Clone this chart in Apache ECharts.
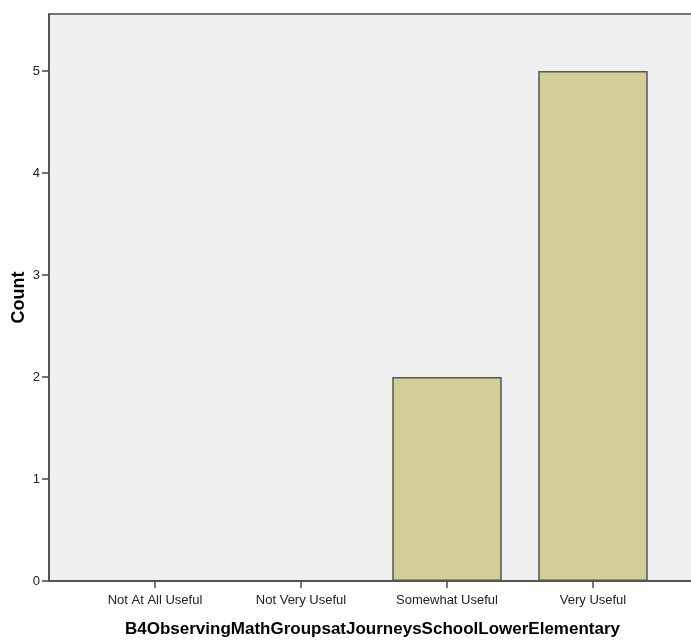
<!DOCTYPE html>
<html>
<head>
<meta charset="utf-8">
<script src="https://cdn.jsdelivr.net/npm/echarts@6/dist/echarts.min.js"></script>
<style>html,body{margin:0;padding:0;background:#fff;}#c{width:691px;height:641px;}</style>
</head>
<body>
<div id="c"></div>
<script>
var categories = ['Not At All Useful', 'Not Very Useful', 'Somewhat Useful', 'Very Useful'];
var counts = [0, 0, 2, 5];
var yTicks = [0, 1, 2, 3, 4, 5];
var xTitle = 'B4ObservingMathGroupsatJourneysSchoolLowerElementary';
var yTitle = 'Count';

var chart = echarts.init(document.getElementById('c'), null, {renderer: 'canvas'});
var yMax = 5.56;
var font = 'Liberation Sans, Arial, sans-serif';
var barData = counts.map(function (v) {
  return {value: v, itemStyle: {borderWidth: v === 0 ? 0 : 1.5}};
});
chart.setOption({
  animation: false,
  backgroundColor: '#ffffff',
  textStyle: {fontFamily: font},
  grid: [
    {left: 49, right: -5, top: 14, bottom: 60, show: true, backgroundColor: '#f0f0f0', borderColor: '#4a4a4a', borderWidth: 1.5, outerBoundsMode: 'none', containLabel: false},
    {left: 82, right: 25, top: 14, bottom: 60, outerBoundsMode: 'none', containLabel: false}
  ],
  xAxis: [
    {gridIndex: 0, type: 'value', min: 0, max: 1, axisLine: {show: true, lineStyle: {color: '#4a4a4a', width: 1.5}},
     axisTick: {show: false}, axisLabel: {show: false}, splitLine: {show: false},
     name: xTitle, nameLocation: 'middle', nameGap: 40, nameMoveOverlap: false,
     nameTextStyle: {fontSize: 17, fontWeight: 'bold', color: '#000', fontFamily: font}},
    {gridIndex: 1, type: 'category', data: categories, boundaryGap: true,
     axisLine: {show: false}, axisTick: {show: true, alignWithLabel: true, length: 7, lineStyle: {color: '#4a4a4a', width: 1.5}},
     axisLabel: {color: '#222', fontSize: 13, margin: 13, fontFamily: font}}
  ],
  yAxis: [
    {gridIndex: 0, type: 'value', min: 0, max: yMax, interval: 1,
     axisLine: {show: true, lineStyle: {color: '#4a4a4a', width: 1.5}},
     axisTick: {show: true, length: 7, customValues: yTicks, lineStyle: {color: '#4a4a4a', width: 1.5}},
     axisLabel: {color: '#222', fontSize: 13, margin: 9, customValues: yTicks, fontFamily: font},
     splitLine: {show: false},
     name: yTitle, nameLocation: 'middle', nameGap: 21, nameRotate: 90, nameMoveOverlap: false,
     nameTextStyle: {fontSize: 18, fontWeight: 'bold', color: '#000', fontFamily: font}},
    {gridIndex: 1, type: 'value', min: 0, max: yMax, show: false}
  ],
  series: [{
    type: 'bar', xAxisIndex: 1, yAxisIndex: 1, data: barData, barWidth: '75%',
    itemStyle: {color: '#d3ce97', borderColor: '#555555', borderWidth: 1.5}
  }]
});
</script>
</body>
</html>
